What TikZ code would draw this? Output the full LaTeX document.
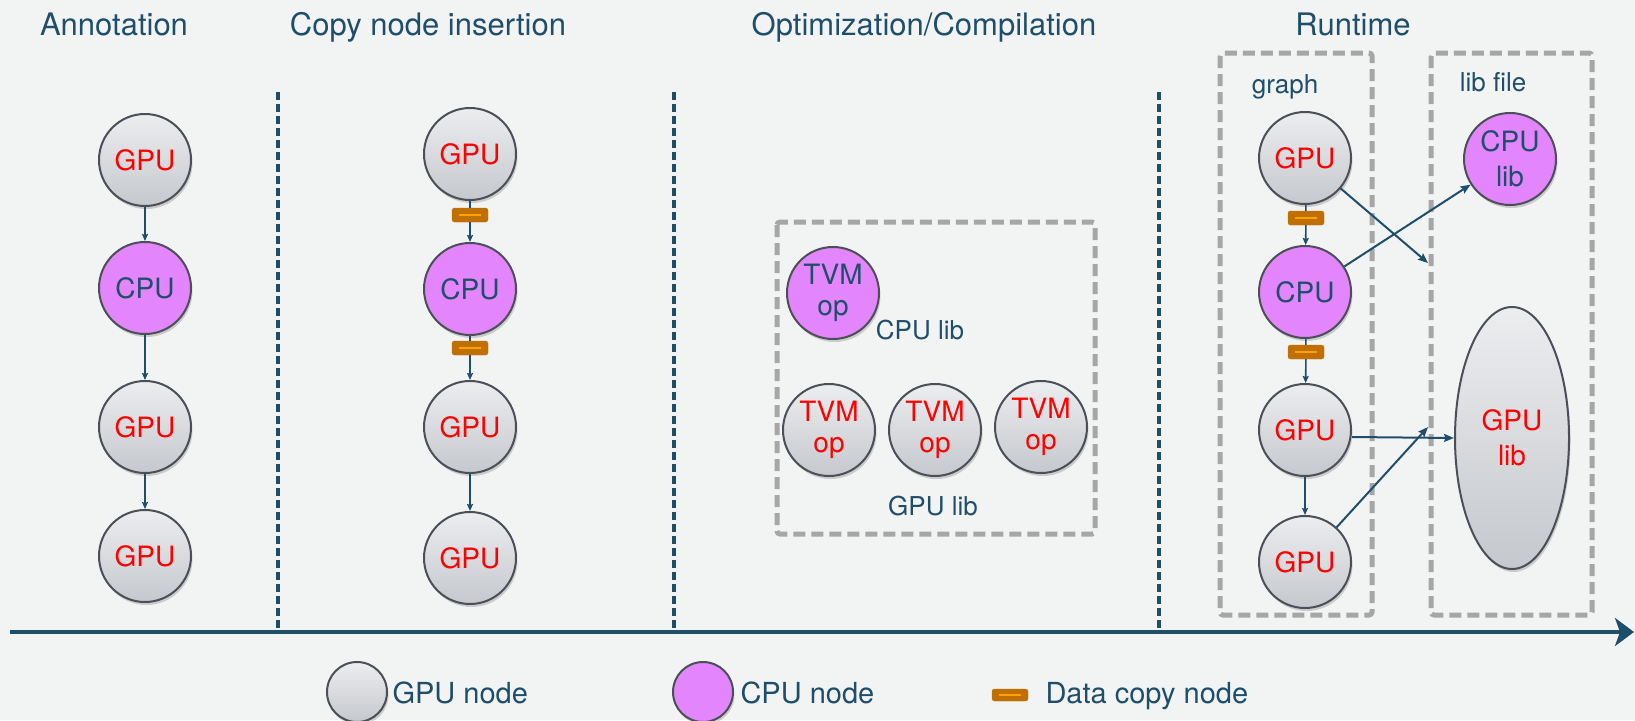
\documentclass[tikz,border=0pt]{standalone}
\usepackage{fontspec}
\setmainfont{TeX Gyre Heros}
\usetikzlibrary{arrows.meta,shadows,shapes.geometric}

\definecolor{bg}{HTML}{F2F3F3}
\definecolor{ink}{HTML}{1F4E6B}
\definecolor{rim}{HTML}{4B5058}
\definecolor{gtop}{HTML}{ECEDEF}
\definecolor{gbot}{HTML}{C5C8CD}
\definecolor{cpufill}{HTML}{E385FC}
\definecolor{copyfill}{HTML}{C07000}
\definecolor{copyline}{HTML}{FFA200}
\definecolor{framegray}{HTML}{A6A6A6}
\definecolor{gputext}{HTML}{FF0000}

\newcommand\setfs[2]{\fontsize{#1}{#2}\selectfont}

\tikzset{
  softshadow/.style={drop shadow={shadow xshift=1.5pt,shadow yshift=-3pt,opacity=0.16,fill=black}},
  opnode/.style={circle,minimum size=92pt,inner sep=0pt,draw=rim,line width=2pt,
    align=center,font=\setfs{28}{31},softshadow},
  gpunode/.style={opnode,top color=gtop,bottom color=gbot,text=gputext},
  cpunode/.style={opnode,fill=cpufill,text=ink},
  copybox/.style={rectangle,rounded corners=2.5pt,minimum width=36pt,minimum height=14pt,
    inner sep=0pt,fill=copyfill,draw=copyfill,
    path picture={\draw[copyline,line width=2.2pt]
      ([xshift=-11pt]path picture bounding box.center) --
      ([xshift=11pt]path picture bounding box.center);}},
  title/.style={anchor=base,text=ink,font=\setfs{31}{36}},
  tag/.style={anchor=base,text=ink,font=\setfs{26}{30}},
  legendtext/.style={anchor=base west,text=ink,font=\setfs{29}{33}},
  flow/.style={draw=ink,line width=1.6pt,-{Stealth[length=7pt,width=6pt,inset=1pt]}},
  longflow/.style={draw=ink,line width=2pt,-{Stealth[length=10pt,width=8pt,inset=1.5pt]}},
  link/.style={draw=ink,line width=1.6pt},
  separator/.style={draw=ink,line width=3.5pt,dash pattern=on 8pt off 4pt},
  libframe/.style={draw=framegray,line width=5pt,dash pattern=on 12pt off 6pt,rounded corners=3pt},
  timeaxis/.style={draw=ink,line width=4pt,-{Stealth[length=19pt,width=28pt,inset=5pt]}}
}

\begin{document}
\begin{tikzpicture}[x=1pt,y=-1pt]
  \fill[bg] (0,0) rectangle (1635,720);
  \useasboundingbox (0,0) rectangle (1635,720);

  % stage titles
  \node[title] (ttl1) at (114,35) {Annotation};
  \node[title] (ttl2) at (428,35) {Copy node insertion};
  \node[title] (ttl3) at (924,35) {Optimization/Compilation};
  \node[title] (ttl4) at (1353,35) {Runtime};

  % stage separators
  \draw[separator] (278,92) -- (278,630);
  \draw[separator] (674,92) -- (674,630);
  \draw[separator] (1159,92) -- (1159,630);

  % time axis
  \coordinate (axstart) at (10,632);
  \coordinate (axend) at (1634,632);
  \draw[timeaxis] (axstart) -- (axend);

  % annotation
  \node[gpunode] (a1) at (145,160) {GPU};
  \node[cpunode] (a2) at (145,288) {CPU};
  \node[gpunode] (a3) at (145,427) {GPU};
  \node[gpunode] (a4) at (145,556) {GPU};
  \draw[flow] (a1) -- (a2);
  \draw[flow] (a2) -- (a3);
  \draw[flow] (a3) -- (a4);

  % copy node insertion
  \node[gpunode] (c1) at (470,154) {GPU};
  \node[copybox] (d1) at (470,215) {};
  \node[cpunode] (c2) at (470,289) {CPU};
  \node[copybox] (d2) at (470,348) {};
  \node[gpunode] (c3) at (470,427) {GPU};
  \node[gpunode] (c4) at (470,558) {GPU};
  \draw[link] (c1) -- (d1);
  \draw[flow] (d1) -- (c2);
  \draw[link] (c2) -- (d2);
  \draw[flow] (d2) -- (c3);
  \draw[flow] (c3) -- (c4);

  % optimization / compilation
  \draw[libframe] (777,222) rectangle (1095,534);
  \node[cpunode] (o1) at (833,293) {TVM\\op};
  \node[tag] (cpulibtag) at (920,339) {CPU lib};
  \node[gpunode] (o2) at (829,430) {TVM\\op};
  \node[gpunode] (o3) at (935,430) {TVM\\op};
  \node[gpunode] (o4) at (1041,427) {TVM\\op};
  \node[tag] (gpulibtag) at (933,515) {GPU lib};

  % runtime
  \draw[libframe] (1220,53) rectangle (1372,615);
  \draw[libframe] (1431,53) rectangle (1592,615);
  \node[tag] (graphtag) at (1285,93) {graph};
  \node[tag] (libtag) at (1493,91) {lib file};

  \node[gpunode] (r1) at (1305,158) {GPU};
  \node[copybox] (e1) at (1306,218) {};
  \node[cpunode] (r2) at (1305,292) {CPU};
  \node[copybox] (e2) at (1306,352) {};
  \node[gpunode] (r3) at (1305,430) {GPU};
  \node[gpunode] (r4) at (1305,562) {GPU};
  \draw[link] (r1) -- (e1);
  \draw[flow] (e1) -- (r2);
  \draw[link] (r2) -- (e2);
  \draw[flow] (e2) -- (r3);
  \draw[flow] (r3) -- (r4);

  \node[cpunode,font=\setfs{28}{35}] (cpulib) at (1510,159) {CPU\\lib};
  \node[gpunode,ellipse,minimum width=114pt,minimum height=262pt,font=\setfs{28}{35}]
    (gpulib) at (1512,438) {GPU\\lib};

  \coordinate (h1) at (1428,263);
  \coordinate (h2) at (1428,427);
  \draw[longflow] (r1) -- (h1);
  \draw[longflow] (r2) -- (cpulib);
  \draw[longflow] ([yshift=-7pt]r3.east) -- (gpulib.west);
  \draw[longflow] (r4) -- (h2);

  % legend
  \node[gpunode,minimum size=60pt] (lg1) at (357,692) {};
  \node[legendtext] (lt1) at (389,703) {GPU node};
  \node[cpunode,minimum size=60pt] (lg2) at (703,692) {};
  \node[legendtext] (lt2) at (737,703) {CPU node};
  \node[copybox,minimum height=12pt] (lg3) at (1010,695) {};
  \node[legendtext] (lt3) at (1042,703) {Data copy node};
\end{tikzpicture}
\end{document}
